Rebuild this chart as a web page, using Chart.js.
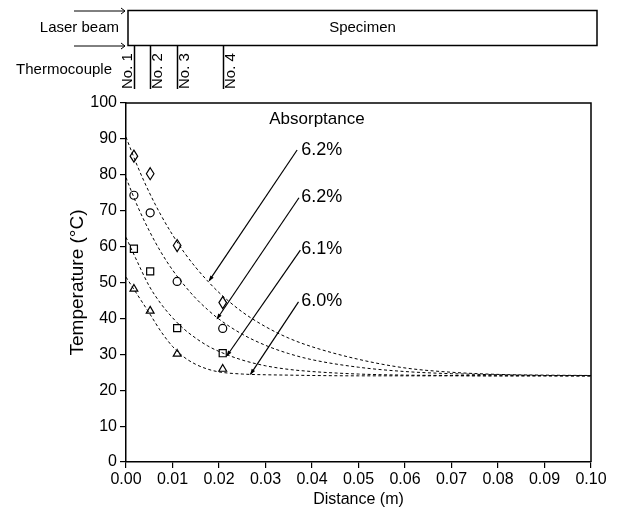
<!DOCTYPE html>
<html>
<head>
<meta charset="utf-8">
<script src="https://cdn.jsdelivr.net/npm/chart.js@4.4.1/dist/chart.umd.min.js"></script>
<style>
  html, body { margin: 0; padding: 0; background: #fff; }
  canvas { display: block; }
</style>
</head>
<body>
<canvas id="temp_profile" width="618" height="516"></canvas>
<script>
// thermocouple positions along the specimen (m)
var tcX = [0.0017, 0.0052, 0.011, 0.0208];
var tcNames = ['No. 1', 'No. 2', 'No. 3', 'No. 4'];

// measured temperatures (°C) at each thermocouple
var diamondT = [85.2, 80.3, 60.3, 44.4];
var circleT = [74.3, 69.4, 50.3, 37.2];
var squareT = [59.4, 53.1, 37.3, 30.3];
var triangleT = [48.2, 42.1, 30.1, 25.9];

// calculated profiles (dashed)
var fitX = [0, 0.0025, 0.005, 0.0075, 0.01, 0.0125, 0.015, 0.0175, 0.02, 0.025, 0.03, 0.035, 0.04, 0.05, 0.06, 0.07, 0.08, 0.09, 0.1];
var fitA = [90.5, 82.3, 75.1, 68.8, 63.3, 58.4, 54.2, 50.5, 47.2, 41.8, 37.7, 34.5, 32.1, 28.6, 26.2, 25.0, 24.4, 24.2, 24.1];
var fitB = [79.2, 71.2, 64.4, 58.5, 53.5, 49.3, 45.6, 42.5, 39.8, 35.6, 32.5, 30.2, 28.5, 26.4, 25.2, 24.6, 24.3, 24.1, 24.0];
var fitC = [62.6, 55.6, 49.0, 44.1, 40.2, 37.0, 34.5, 32.4, 30.8, 28.4, 26.8, 25.8, 25.2, 24.5, 24.2, 24.1, 24.0, 24.0, 24.0];
var fitD = [51.5, 46.5, 41.5, 36.4, 32.2, 29.2, 27.2, 25.9, 25.1, 24.5, 24.3, 24.2, 24.1, 24.0, 24.0, 24.0, 24.0, 24.0, 24.0];

// absorptance labels and their leader lines
var absLabels = ['6.2%', '6.2%', '6.1%', '6.0%'];
var absLabelX = 0.0377;
var absLabelT = [87.0, 73.9, 59.4, 44.9];
var leaderTailX = [0.0368, 0.0372, 0.0375, 0.0371];
var leaderTailT = [86.9, 73.6, 59.0, 44.6];
var leaderTipX = [0.0179, 0.0196, 0.0217, 0.0268];
var leaderTipT = [50.5, 39.9, 29.6, 24.5];

var xTicksMin = 0, xTicksMax = 0.1, xStep = 0.01;
var yTicksMin = 0, yTicksMax = 100, yStep = 10;

var FONT = '"Liberation Sans", Arial, Helvetica, sans-serif';

function pairs(xs, ys) {
    return xs.map(function(x, i) { return {x: x, y: ys[i]}; });
}

function markerSet(ys, style, radius) {
    return {
        data: pairs(tcX, ys),
        showLine: false,
        pointStyle: style,
        pointRadius: radius,
        pointBorderColor: '#000',
        pointBackgroundColor: 'rgba(0,0,0,0)',
        pointBorderWidth: 1.2
    };
}

function fitSet(ys) {
    return {
        data: pairs(fitX, ys),
        showLine: true,
        borderColor: '#000',
        borderWidth: 1,
        borderDash: [3, 2.5],
        pointRadius: 0,
        cubicInterpolationMode: 'monotone'
    };
}

function leaderSet(i) {
    return {
        data: [{x: leaderTailX[i], y: leaderTailT[i]}, {x: leaderTipX[i], y: leaderTipT[i]}],
        showLine: true,
        borderColor: '#000',
        borderWidth: 1.2,
        pointRadius: 0,
        isLeader: true
    };
}

// diamonds are tall, so the set is laid out by the scales and stroked below
var diamondSet = markerSet(diamondT, false, 5);
diamondSet.isDiamond = true;

var datasets = [
    fitSet(fitA), fitSet(fitB), fitSet(fitC), fitSet(fitD),
    diamondSet,
    markerSet(circleT, 'circle', 4),
    markerSet(squareT, 'rect', 5),
    markerSet(triangleT, 'triangle', 4.5)
];
for (var i = 0; i < 4; i++) datasets.push(leaderSet(i));

// frame, specimen sketch, labels, diamond markers and leader arrowheads
var decorPlugin = {
    id: 'decor',
    afterDatasetsDraw: function(chart) {
        var ctx = chart.ctx;
        chart.data.datasets.forEach(function(ds, di) {
            var pts = chart.getDatasetMeta(di).data;
            if (ds.isDiamond) {
                ctx.save();
                ctx.strokeStyle = '#000';
                ctx.lineWidth = 1.2;
                pts.forEach(function(p) {
                    ctx.beginPath();
                    ctx.moveTo(p.x, p.y - 6);
                    ctx.lineTo(p.x + 3.8, p.y);
                    ctx.lineTo(p.x, p.y + 6);
                    ctx.lineTo(p.x - 3.8, p.y);
                    ctx.closePath();
                    ctx.stroke();
                });
                ctx.restore();
            }
            if (!ds.isLeader) return;
            var a = pts[0], b = pts[1];
            var ang = Math.atan2(b.y - a.y, b.x - a.x);
            ctx.save();
            ctx.translate(b.x, b.y);
            ctx.rotate(ang);
            ctx.fillStyle = '#000';
            ctx.beginPath();
            ctx.moveTo(1, 0); ctx.lineTo(-5, -2); ctx.lineTo(-5, 2);
            ctx.closePath();
            ctx.fill();
            ctx.restore();
        });
    },
    afterDraw: function(chart) {
        var ctx = chart.ctx, area = chart.chartArea;
        var xs = chart.scales.x, ys = chart.scales.y;
        ctx.save();
        ctx.strokeStyle = '#000';
        ctx.lineWidth = 1.5;
        ctx.beginPath();
        ctx.moveTo(area.left, area.top);
        ctx.lineTo(area.right, area.top);
        ctx.lineTo(area.right, area.bottom);
        ctx.stroke();

        // annotation text
        ctx.fillStyle = '#000';
        ctx.textBaseline = 'middle';
        ctx.textAlign = 'left';
        ctx.font = '17px ' + FONT;
        ctx.fillText('Absorptance', xs.getPixelForValue(0.0308), ys.getPixelForValue(95.4));
        ctx.font = '18px ' + FONT;
        absLabels.forEach(function(t, k) {
            ctx.fillText(t, xs.getPixelForValue(absLabelX), ys.getPixelForValue(absLabelT[k]));
        });

        // specimen block
        var left = area.left + 2, right = 597;
        ctx.lineWidth = 1.5;
        ctx.strokeRect(left, 10.5, right - left, 35);
        ctx.font = '15px ' + FONT;
        ctx.textAlign = 'center';
        ctx.fillText('Specimen', (left + right) / 2, 28);
        ctx.textAlign = 'right';
        ctx.fillText('Laser beam', 119, 28);
        ctx.fillText('Thermocouple', 112, 70);

        // incoming beam arrows
        ctx.lineWidth = 1;
        [11, 46].forEach(function(y) {
            ctx.beginPath();
            ctx.moveTo(74, y);
            ctx.lineTo(left - 3, y);
            ctx.moveTo(left - 7, y - 3);
            ctx.lineTo(left - 3, y);
            ctx.lineTo(left - 7, y + 3);
            ctx.stroke();
        });

        // thermocouple wires
        ctx.lineWidth = 1.5;
        tcX.forEach(function(v, k) {
            var px = Math.round(xs.getPixelForValue(v)) + 0.5;
            ctx.beginPath();
            ctx.moveTo(px, 46);
            ctx.lineTo(px, 89);
            ctx.stroke();
            var tx = k === 0 ? px - 7 : px + 7;
            ctx.save();
            ctx.translate(tx, 89);
            ctx.rotate(-Math.PI / 2);
            ctx.textAlign = 'left';
            ctx.textBaseline = 'middle';
            ctx.fillText(tcNames[k], 0, 0);
            ctx.restore();
        });
        ctx.restore();
    }
};

var tickFont = {family: FONT, size: 16};

new Chart(document.getElementById('temp_profile').getContext('2d'), {
    type: 'scatter',
    data: {datasets: datasets},
    options: {
        responsive: false,
        animation: false,
        events: [],
        layout: {padding: {top: 103, right: 27, left: 0, bottom: 0}},
        plugins: {legend: {display: false}, tooltip: {enabled: false}},
        scales: {
            x: {
                type: 'linear',
                min: xTicksMin,
                max: xTicksMax,
                ticks: {
                    stepSize: xStep,
                    autoSkip: false,
                    maxRotation: 0,
                    color: '#000',
                    font: tickFont,
                    padding: 2,
                    callback: function(v) { return v.toFixed(2); }
                },
                grid: {drawOnChartArea: false, color: '#000', lineWidth: 1.2, tickLength: 6},
                border: {color: '#000', width: 1.5},
                title: {display: true, text: 'Distance (m)', color: '#000', font: {family: FONT, size: 16}, padding: {top: 0, bottom: 7}},
                afterFit: function(s) { s.height = 54; }
            },
            y: {
                type: 'linear',
                min: yTicksMin,
                max: yTicksMax,
                ticks: {stepSize: yStep, color: '#000', font: tickFont, padding: 3},
                grid: {drawOnChartArea: false, color: '#000', lineWidth: 1.2, tickLength: 6},
                border: {color: '#000', width: 1.5},
                title: {display: true, text: 'Temperature (°C)', color: '#000', font: {family: FONT, size: 19}, padding: {top: 66, bottom: 0}},
                afterFit: function(s) { s.width = 126; }
            }
        }
    },
    plugins: [decorPlugin]
});
</script>
</body>
</html>
